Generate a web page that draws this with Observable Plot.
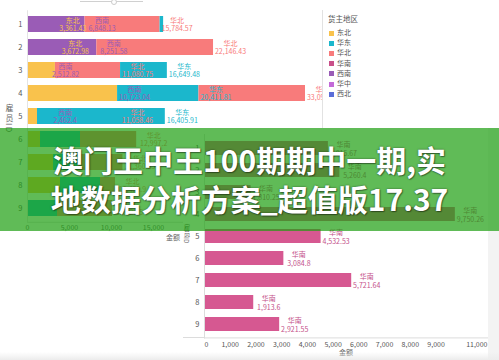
<!DOCTYPE html>
<html><head><meta charset="utf-8">
<script src="https://cdn.jsdelivr.net/npm/d3@7"></script>
<script src="https://cdn.jsdelivr.net/npm/@observablehq/plot@0.6"></script>
<style>
body{margin:0;background:#fff;font-family:"Noto Sans CJK SC","Noto Sans",sans-serif;}
#wrap{position:relative;width:499px;height:360px;overflow:hidden;background:#fff;}
.abs{position:absolute;}
.vt{position:absolute;writing-mode:vertical-rl;color:#666;white-space:nowrap;}
.lg{position:absolute;font-size:7px;color:#555;line-height:10px;white-space:nowrap;}
.sw{display:inline-block;width:5px;height:5px;margin-right:3px;vertical-align:-0.5px;}
#banner{position:absolute;left:0;top:128px;width:499px;height:103px;background:rgba(29,158,15,0.7);z-index:10;
 color:#fff;font-weight:bold;font-size:30px;line-height:39px;text-align:center;white-space:nowrap;
 text-shadow:0 0 2px rgba(0,0,0,0.55),1px 1px 1px rgba(0,0,0,0.35);padding-top:12px;box-sizing:border-box;}
</style></head><body><div id="wrap"></div>
<script>
// ---------- data ----------
const employees = ["1","2","3","4","5","6","7","8","9"];
const regions = ["东北","华东","华北","华南","西南","华中","西北"];
const regionColors = ["#f9c24c","#1bb7cc","#f87b7b","#c95089","#9a5cb6","#c46ad8","#5b6dd8"];

// chart 1: stacked segments (employee, region, amount) in stacking order
const segEmployee = ["1","1","1","2","2","3","3","3","4","4","4","5","5","6","6","6","7","7","7","8","8","8","9","9"];
const segRegion   = ["西南","华北","华东","西南","华北","东北","华北","华东","东北","华东","华北","东北","华东","东北","华东","华北","东北","华东","华北","东北","华东","华北","华东","华北"];
const segAmount   = [6848.13,8936.44,420,8251.58,13894.85,3320.5,7760.25,5568.73,10723.04,9688.77,12683.31,1190,15215.91,1550,4760,6687.2,3100,2950,5310,3930,4760,1790,3570,6550];

// chart 1: data labels (employee, region, cumulative amount)
const lblEmployee = ["1","1","1","2","2","2","3","3","3","4","4","4","5","5","5","6","7","8","9"];
const lblRegion   = ["东北","西南","华北","东北","西南","华北","西南","华北","华东","西南","华东","华北","西南","华北","华东","华北","华北","华北","华北"];
const lblAmount   = [3361.43,6848.13,15784.57,3672.98,8251.58,22146.43,2512.82,11080.75,16649.48,10723.04,20411.81,33095.12,2462.4,11058.46,16405.91,12997.2,11360.35,10480.9,10120.5];

// chart 2: 华南 amount per employee
const southEmployee = ["1","2","3","4","5","6","7","8","9"];
const southAmount = [4815.67,5260.4,1810.25,9750.26,4532.53,3084.8,5721.64,1913.6,2921.55];

const ticks1 = [0,5000,10000,15000,20000,25000,30000,35000];
const ticks2 = [1000,2000,3000,4000,5000,6000,7000,8000,9000];
const legendTitle = "货主地区";
const bannerLines = ["澳门王中王100期期中一期,实","地数据分析方案_超值版17.37"];

// ---------- build ----------
const fmt = d3.format(",");
const segs = segEmployee.map((e,i)=>({id:e, region:segRegion[i], value:segAmount[i]}));
const lbls = lblEmployee.map((e,i)=>({id:e, region:lblRegion[i], cum:lblAmount[i]}));
const south = southEmployee.map((e,i)=>({id:e, value:southAmount[i]}));
const wrap = document.getElementById("wrap");
const font = '"Noto Sans CJK SC","Noto Sans",sans-serif';

const c1 = Plot.plot({
  width: 322, height: 245,
  marginLeft: 27, marginRight: 1, marginTop: 10.25, marginBottom: 23.25,
  x: {domain: [0, 35000], label: null},
  y: {domain: employees, paddingInner: 0.32, paddingOuter: 0.16, label: null},
  color: {domain: regions, range: regionColors},
  style: {fontFamily: font, fontSize: "7px", color: "#666", background: "transparent", overflow: "hidden"},
  marks: [
    Plot.ruleX(ticks1.slice(1), {stroke: "#ececec", y1: null}),
    Plot.barX(segs, {x: "value", y: "id", fill: "region"}),
    Plot.frame({anchor: "bottom", stroke: "#dcdcdc"}),
    Plot.frame({anchor: "left", stroke: "#e4e4e4"}),
    Plot.axisX({ticks: ticks1, tickFormat: fmt, tickSize: 0, tickPadding: 3, fill: "#666", label: null}),
    Plot.axisY({tickSize: 0, tickPadding: 5, fill: "#555", fontSize: 7.5, label: null}),
    Plot.text(lbls, {x: "cum", y: "id", text: d => d.region + "\n" + fmt(d.cum), fill: "region",
      textAnchor: "middle", dx: 17, fontSize: 7, lineHeight: 1.15})
  ]
});
c1.style.position = "absolute"; c1.style.left = "0px"; c1.style.top = "0px";
wrap.appendChild(c1);

// legend + divider + slider
const div = document.createElement("div");
div.className = "abs";
div.style.cssText = "left:322px;top:10px;width:1px;height:125px;background:#e2e2e2;";
wrap.appendChild(div);
const slider = document.createElement("div");
slider.className = "abs";
slider.style.cssText = "left:80px;top:1px;width:63px;height:1px;background:#d0d0d0;";
wrap.appendChild(slider);
const knob = document.createElement("div");
knob.className = "abs";
knob.style.cssText = "left:111px;top:-1px;width:4px;height:4px;border:1px solid #ccc;border-radius:50%;background:#fff;";
wrap.appendChild(knob);

const lt = document.createElement("div");
lt.className = "lg"; lt.style.left = "328px"; lt.style.top = "14px"; lt.style.fontSize = "7.5px";
lt.textContent = legendTitle;
wrap.appendChild(lt);
regions.forEach((r,i)=>{
  const it = document.createElement("div");
  it.className = "lg"; it.style.left = "329px"; it.style.top = (27 + i*10.2) + "px";
  it.innerHTML = `<span class="sw" style="background:${regionColors[i]}"></span>${r}`;
  wrap.appendChild(it);
});

const yt1 = document.createElement("div");
yt1.className = "vt"; yt1.style.cssText += "left:4px;top:104px;font-size:8px;letter-spacing:1.5px;";
yt1.textContent = "雇员ID";
wrap.appendChild(yt1);
const xt1 = document.createElement("div");
xt1.className = "abs"; xt1.style.cssText = "left:166px;top:232px;font-size:7px;color:#666;";
xt1.textContent = "金额";
wrap.appendChild(xt1);

// chart 2
const box = document.createElement("div");
box.className = "abs";
box.style.cssText = "left:183px;top:128px;width:305px;height:232px;background:#fff;z-index:2;";
wrap.appendChild(box);
const grayR = document.createElement("div");
grayR.className = "abs";
grayR.style.cssText = "left:488px;top:128px;width:11px;height:232px;background:#f3f3f3;z-index:2;";
wrap.appendChild(grayR);

const c2 = Plot.plot({
  width: 305, height: 232,
  marginLeft: 21, marginRight: 1, marginTop: 6, marginBottom: 22.6,
  x: {domain: [0, 11000], label: null},
  y: {domain: employees, paddingInner: 0.38, paddingOuter: 0.19, label: null},
  style: {fontFamily: font, fontSize: "7px", color: "#666", background: "transparent", overflow: "visible"},
  marks: [
    Plot.barX(south, {x: "value", y: "id", fill: "#d65891"}),
    Plot.frame({anchor: "bottom", stroke: "#dcdcdc"}),
    Plot.frame({anchor: "left", stroke: "#dcdcdc"}),
    Plot.axisX({ticks: [0], tickFormat: fmt, tickSize: 0, tickPadding: 4, textAnchor: "start", fill: "#555", label: null}),
    Plot.axisX({ticks: ticks2, tickFormat: fmt, tickSize: 0, tickPadding: 4, fill: "#555", label: null}),
    Plot.axisX({ticks: [11000], tickFormat: fmt, tickSize: 0, tickPadding: 4, textAnchor: "end", fill: "#555", label: null}),
    Plot.axisY({tickSize: 0, tickPadding: 5, fill: "#555", fontSize: 7.5, label: null}),
    Plot.text(south, {x: "value", y: "id", text: d => "华南\n" + fmt(d.value), fill: "#c4508a",
      textAnchor: "middle", dx: 15, fontSize: 7, lineHeight: 1.25})
  ]
});
c2.style.position = "absolute"; c2.style.left = "0px"; c2.style.top = "0px";
box.appendChild(c2);
const xl2 = document.createElement("div");
xl2.className = "abs"; xl2.style.cssText = "left:156px;top:219px;font-size:7px;color:#666;";
xl2.textContent = "金额";
box.appendChild(xl2);
const yt2 = document.createElement("div");
yt2.className = "vt"; yt2.style.cssText += "left:-1px;top:96px;font-size:6.5px;";
yt2.textContent = "雇员ID";
box.appendChild(yt2);
const xl = document.createElement("div");
xl.className = "abs"; xl.style.cssText = "left:0px;top:209px;width:21px;height:1px;background:#dcdcdc;";
box.appendChild(xl);

const bottomShade = document.createElement("div");
bottomShade.className = "abs";
bottomShade.style.cssText = "left:0;top:352px;width:499px;height:8px;background:linear-gradient(#fff0,#ececec);z-index:3;";
wrap.appendChild(bottomShade);

// banner
const banner = document.createElement("div");
banner.id = "banner";
banner.innerHTML = bannerLines.map(l => `<div>${l}</div>`).join("");
wrap.appendChild(banner);
</script>
</body></html>
